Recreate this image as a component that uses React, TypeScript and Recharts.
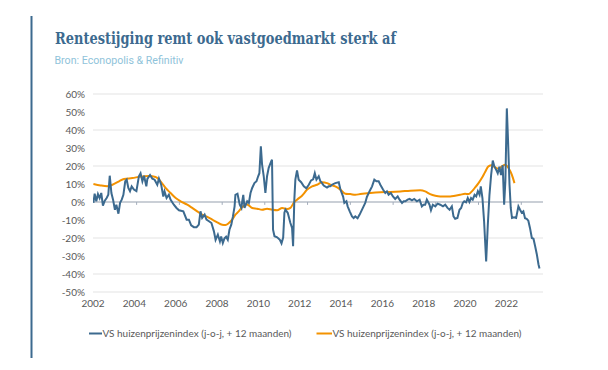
import React from "react";
import { LineChart, Line, XAxis, YAxis, CartesianGrid, ReferenceLine } from "recharts";

// VS huizenprijzenindex (blue), [year, % j-o-j]
const blueSeries: [number, number][] = [
  [2002.02, -0.5], [2002.08, 4.6], [2002.16, 0.4], [2002.24, 4.4], [2002.32, 2.2], [2002.40, 5],
  [2002.48, -2], [2002.57, 0.7], [2002.66, 2.2], [2002.74, 4], [2002.81, 14.6], [2002.89, 5],
  [2002.97, 1.3], [2003.06, -4.3], [2003.13, -1.5], [2003.23, -6.5], [2003.31, -0.5], [2003.39, 1.3],
  [2003.47, 4], [2003.56, 11.5], [2003.63, 12.4], [2003.71, 7.8], [2003.79, 6], [2003.87, 8.7],
  [2003.98, 6.9], [2004.10, 6], [2004.22, 14.3], [2004.30, 16], [2004.39, 11.5], [2004.47, 14.6],
  [2004.58, 8.7], [2004.63, 12.8], [2004.76, 15], [2004.87, 13], [2004.98, 12.4], [2005.11, 9.6],
  [2005.19, 13], [2005.30, 9.6], [2005.40, 3], [2005.46, 5.9], [2005.56, 2.2], [2005.67, 4],
  [2005.75, 1.3], [2005.91, -1.5], [2006.04, -3.3], [2006.16, -4.6], [2006.37, -5.2], [2006.53, -9.8],
  [2006.64, -9.8], [2006.75, -13], [2006.88, -14], [2007.01, -14], [2007.12, -12.6], [2007.20, -5.2],
  [2007.28, -8.9], [2007.40, -7], [2007.49, -9.8], [2007.61, -10.7], [2007.73, -11.7], [2007.85, -16.3],
  [2007.93, -21], [2008.04, -18.1], [2008.14, -21.9], [2008.20, -19.1], [2008.28, -22.8], [2008.36, -20.2],
  [2008.44, -19.3], [2008.52, -21], [2008.60, -15.4], [2008.69, -12.6], [2008.77, -8], [2008.85, -2.4],
  [2008.89, 4], [2008.99, 4.6], [2009.10, -1.5], [2009.18, -3.3], [2009.22, 0.4], [2009.27, 4],
  [2009.33, -3.3], [2009.46, 0.4], [2009.54, -0.5], [2009.62, 5], [2009.70, 7.8], [2009.81, 10.5],
  [2009.91, 11.5], [2009.99, 14.3], [2010.05, 16], [2010.12, 31], [2010.18, 20.7], [2010.26, 14.3],
  [2010.34, 5], [2010.42, 14.3], [2010.50, 19], [2010.62, 22.6], [2010.66, 23.5], [2010.71, -15.4],
  [2010.78, -19], [2010.91, -19.6], [2011.04, -21], [2011.12, -23], [2011.20, -19.8], [2011.26, -6],
  [2011.31, -4.3], [2011.42, -6], [2011.55, -11.7], [2011.63, -14.4], [2011.68, -24.6], [2011.74, 1.3],
  [2011.79, 12.4], [2011.87, 17.6], [2011.95, 12.4], [2012.07, 11], [2012.20, 8.7], [2012.32, 7.6],
  [2012.44, 9.6], [2012.55, 12], [2012.65, 12.6], [2012.73, 16], [2012.81, 12.4], [2012.92, 14.3],
  [2013.00, 11.5], [2013.08, 10.5], [2013.16, 9.1], [2013.32, 8], [2013.40, 8.7], [2013.48, 8.7],
  [2013.56, 9.6], [2013.72, 10.5], [2013.89, 11], [2013.97, 6.9], [2014.10, 3], [2014.16, -0.5],
  [2014.26, 0.4], [2014.32, -2.4], [2014.42, -5.2], [2014.53, -8], [2014.61, -8.9], [2014.69, -8],
  [2014.80, -9], [2014.90, -7], [2015.09, -2.4], [2015.17, -0.5], [2015.25, 2.8], [2015.38, 6],
  [2015.50, 8.7], [2015.61, 12.4], [2015.71, 11.5], [2015.82, 11.5], [2015.90, 9.6], [2016.03, 6.9],
  [2016.14, 5], [2016.22, 5.9], [2016.30, 4], [2016.41, 5], [2016.51, 3.1], [2016.62, 1.7],
  [2016.74, 3.1], [2016.83, 1.3], [2016.95, -0.5], [2017.03, 0.4], [2017.11, 0.4], [2017.22, 1.3],
  [2017.32, 1.7], [2017.43, 0.9], [2017.54, 1.7], [2017.67, 0.4], [2017.80, 1.3], [2017.91, -2.4],
  [2017.99, -1.5], [2018.07, -1.5], [2018.15, 1.3], [2018.28, -1.5], [2018.35, -4.6], [2018.44, -1.5],
  [2018.56, -2.4], [2018.67, -0.9], [2018.80, -1.5], [2018.93, -2.4], [2019.04, -1.5], [2019.15, -3.3],
  [2019.25, -4.3], [2019.36, -2.4], [2019.44, -8], [2019.52, -9.3], [2019.63, -8.9], [2019.73, -4.3],
  [2019.81, -3.3], [2019.89, -0.5], [2019.96, 0.4], [2020.05, -0.2], [2020.13, 2.2], [2020.21, 0],
  [2020.29, 2.2], [2020.37, 1.3], [2020.46, 4], [2020.54, 3.1], [2020.62, 6], [2020.70, 4],
  [2020.76, 8.7], [2020.84, 2.2], [2020.92, -10.7], [2021.02, -33], [2021.10, -12.6], [2021.18, 4],
  [2021.26, 15], [2021.34, 23], [2021.42, 19.6], [2021.50, 18], [2021.58, 16], [2021.66, 19.6],
  [2021.74, 15], [2021.82, 20.4], [2021.89, -1.5], [2021.95, 11.5], [2022.02, 52], [2022.08, 33.7],
  [2022.15, 9.6], [2022.21, -3.3], [2022.27, -8.9], [2022.37, -8.5], [2022.47, -8.9], [2022.58, -2.4],
  [2022.66, -4.3], [2022.74, -6], [2022.82, -5.2], [2022.90, -9], [2022.98, -9.3], [2023.06, -10.4],
  [2023.14, -14.4], [2023.23, -20], [2023.31, -20.4], [2023.39, -24.6], [2023.47, -29], [2023.55, -34.6],
  [2023.60, -37],
];

// VS huizenprijzenindex (orange), [year, %]
const orangeSeries: [number, number][] = [
  [2002.02, 10], [2002.37, 9.2], [2002.69, 8.8], [2002.94, 9.6], [2003.26, 11.5], [2003.5, 12.8],
  [2003.9, 13.3], [2004.3, 14.1], [2004.71, 14.4], [2005.03, 13.9], [2005.27, 11.5], [2005.51, 7.8],
  [2005.75, 5], [2006.0, 2.2], [2006.24, 0.4], [2006.56, -1.5], [2006.80, -3.3], [2007.04, -5.2],
  [2007.28, -7], [2007.53, -8.3], [2007.77, -9.8], [2008.01, -11.3], [2008.25, -12.6], [2008.41, -12.8],
  [2008.57, -11.7], [2008.73, -9.8], [2008.89, -7], [2009.05, -5.2], [2009.26, -2.4], [2009.43, -1.2],
  [2009.70, -3.3], [2009.94, -3.7], [2010.18, -4.3], [2010.42, -3.7], [2010.67, -4.3], [2010.91, -4.6],
  [2011.15, -3.3], [2011.39, -3.9], [2011.55, -3.3], [2011.71, -0.5], [2011.87, 1.3], [2012.11, 3.5],
  [2012.36, 6.9], [2012.6, 8.7], [2012.84, 9.6], [2013.08, 11], [2013.32, 10.5], [2013.48, 9.6],
  [2013.72, 8.7], [2013.97, 6.9], [2014.21, 4.6], [2014.45, 4.4], [2014.69, 4], [2014.93, 4.4],
  [2015.42, 5], [2015.90, 5.4], [2016.38, 5.6], [2016.87, 5.9], [2017.35, 6.3], [2017.83, 6.5],
  [2018.07, 5.9], [2018.31, 4.4], [2018.56, 3.5], [2018.8, 3.1], [2019.04, 3.1], [2019.28, 3.1],
  [2019.52, 3.5], [2019.76, 4], [2020.0, 4.6], [2020.17, 4.4], [2020.33, 5.9], [2020.49, 8.1],
  [2020.65, 10.5], [2020.81, 13.3], [2020.97, 16.7], [2021.13, 19.8], [2021.29, 20.4], [2021.45, 19.3],
  [2021.61, 18.5], [2021.78, 19.8], [2021.94, 20.7], [2022.1, 18.9], [2022.26, 15.2], [2022.39, 10.5],
];

const xTicks = [2002, 2004, 2006, 2008, 2010, 2012, 2014, 2016, 2018, 2020, 2022];
const yTicks = [-50, -40, -30, -20, -10, 0, 10, 20, 30, 40, 50, 60];
const zeroAxisMarks = [2004.11, 2006.18, 2008.25, 2010.31, 2012.38, 2014.45, 2016.52, 2018.58, 2020.65, 2022.72];

const title = "Rentestijging remt ook vastgoedmarkt sterk af";
const subtitle = "Bron: Econopolis & Refinitiv";
const legendLabels = [
  "VS huizenprijzenindex (j-o-j, + 12 maanden)",
  "VS huizenprijzenindex (j-o-j, + 12 maanden)",
];

const BLUE = "#3c6a8f";
const ORANGE = "#f39200";
const FONT = "Lato, 'Open Sans', sans-serif";

const blueData = blueSeries.map(([x, v]) => ({ x, v }));
const orangeData = orangeSeries.map(([x, v]) => ({ x, v }));

export default function App() {
  return (
    <div style={{ position: "absolute", left: 0, top: 0, width: 608, height: 370, background: "#fff", overflow: "hidden" }}>
      <svg width={608} height={370} style={{ position: "absolute", left: 0, top: 0 }}>
        <line x1={31.5} y1={16} x2={31.5} y2={358} stroke={BLUE} strokeWidth={2} />
        <text x={55} y={43.5} fontFamily="'DejaVu Serif', serif" fontWeight={700} fontSize={17}
          textLength={341} lengthAdjust="spacingAndGlyphs" fill={BLUE}>{title}</text>
        <text x={54.5} y={63.5} fontFamily="Roboto, sans-serif" fontSize={11}
          textLength={129} lengthAdjust="spacingAndGlyphs" fill="#8fc3da">{subtitle}</text>
        <line x1={89} y1={333.5} x2={102} y2={333.5} stroke={BLUE} strokeWidth={2} />
        <text x={102.5} y={337} fontFamily={FONT} fontSize={10} textLength={189}
          lengthAdjust="spacingAndGlyphs" fill="#595959">{legendLabels[0]}</text>
        <line x1={316.5} y1={333.5} x2={332} y2={333.5} stroke={ORANGE} strokeWidth={2} />
        <text x={332.5} y={337} fontFamily={FONT} fontSize={10} textLength={189}
          lengthAdjust="spacingAndGlyphs" fill="#595959">{legendLabels[1]}</text>
      </svg>
      <div style={{ position: "absolute", left: 0, top: 0 }}>
        <LineChart width={608} height={370} margin={{ top: 94, right: 65, bottom: 58, left: 0 }}>
          <CartesianGrid vertical={false} stroke="#e3e3e3" strokeWidth={1} />
          <XAxis dataKey="x" type="number" domain={[2002, 2023.77]} ticks={xTicks} allowDataOverflow
            axisLine={false} tickLine={false} height={20} interval={0}
            tick={{ fontFamily: FONT, fontSize: 10, fill: "#595959" }} tickFormatter={(v) => String(v)} />
          <YAxis type="number" domain={[-50, 60]} ticks={yTicks} width={93} axisLine={false} tickLine={false}
            tick={{ fontFamily: FONT, fontSize: 10, fill: "#595959" }} tickFormatter={(v) => `${v}%`} />
          <ReferenceLine y={0} stroke="#a3adbb" strokeWidth={1} />
          {zeroAxisMarks.map((m) => (
            <ReferenceLine key={m} segment={[{ x: m, y: 0 }, { x: m, y: -1.6 }]} stroke="#a3adbb" strokeWidth={1} />
          ))}
          <Line data={orangeData} dataKey="v" type="monotone" stroke={ORANGE} strokeWidth={2} dot={false} isAnimationActive={false} />
          <Line data={blueData} dataKey="v" type="linear" stroke={BLUE} strokeWidth={2} dot={false} isAnimationActive={false} />
        </LineChart>
      </div>
    </div>
  );
}
